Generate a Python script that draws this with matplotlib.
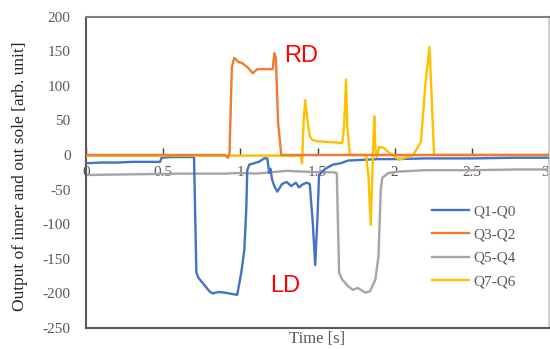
import matplotlib
matplotlib.use("Agg")
import matplotlib.pyplot as plt

# ---- data ----
t_q1 = [0, 0.1, 0.2, 0.3, 0.4, 0.48, 0.49, 0.55, 0.65, 0.70, 0.715, 0.73, 0.76, 0.80, 0.82,
        0.86, 0.90, 0.95, 0.975, 0.98, 1.006, 1.026, 1.039, 1.045, 1.058, 1.12, 1.155, 1.175,
        1.187, 1.195, 1.205, 1.22, 1.24, 1.27, 1.30, 1.33, 1.36, 1.38, 1.40, 1.43, 1.45,
        1.47, 1.485, 1.50, 1.51, 1.55, 1.60, 1.65, 1.70, 1.80, 1.90, 2.0, 2.2, 2.5, 2.8, 3.0]
v_q1 = [-12, -11, -11, -10, -10, -10, -4, -3, -3, -3, -170, -178, -186, -197, -200,
        -198, -199, -201, -202, -202, -170, -137, -75, -22, -14, -10, -5, -5,
        -26, -20, -35, -45, -53, -42, -39, -45, -40, -47, -43, -40, -42,
        -100, -159, -90, -29, -20, -14, -12, -8, -7, -6, -6, -5, -5, -4, -4]

t_q3 = [0, 0.90, 0.92, 0.93, 0.945, 0.96, 0.99, 1.01, 1.05, 1.08, 1.11, 1.17, 1.21, 1.22,
        1.23, 1.245, 1.265, 3.0]
v_q3 = [0, 0, -4, 3, 127, 140, 134, 133, 126, 118, 124, 124, 124, 147,
        141, 46, 0, 0]

t_q5 = [0, 0.3, 0.6, 0.9, 1.0, 1.1, 1.2, 1.3, 1.4, 1.5, 1.6, 1.625, 1.64, 1.66, 1.70,
        1.73, 1.76, 1.81, 1.84, 1.875, 1.895, 1.91, 1.92, 1.96, 2.03, 2.2, 2.5, 2.8, 3.0]
v_q5 = [-29, -28, -27, -27, -26, -27, -25, -23, -24, -25, -25, -26, -170, -180, -190,
        -195, -192, -199, -197, -180, -147, -50, -33, -26, -24, -22, -22, -21, -21]

t_q7 = [0, 1.39, 1.40, 1.41, 1.42, 1.435, 1.45, 1.465, 1.49, 1.55, 1.62, 1.66, 1.672,
        1.685, 1.693, 1.71, 1.815, 1.83, 1.845, 1.855, 1.862, 1.868, 1.875, 1.885, 1.90,
        1.93, 1.96, 2.03, 2.08, 2.12, 2.17, 2.20, 2.225, 2.24, 2.255, 3.0]
v_q7 = [-1, -1, -12, 48, 79, 50, 27, 22, 20, 19, 18, 17, 40,
        109, 40, 0, 0, -30, -101, -30, 20, 56, 10, -3, 12,
        10, 4, -7, -3, 0, 19, 104, 156, 83, 0, 0]

series_names = ["Q1-Q0", "Q3-Q2", "Q5-Q4", "Q7-Q6"]
series_colors = ["#4472C4", "#ED7D31", "#A5A5A5", "#FFC000"]
x_ticks = [0, 0.5, 1, 1.5, 2, 2.5, 3]
x_tick_labels = ["0", "0.5", "1", "1.5", "2", "2.5", "3"]
y_ticks = [200, 150, 100, 50, 0, -50, -100, -150, -200, -250]

# ---- figure ----
serif = ["Liberation Serif", "DejaVu Serif"]
txt_col = "#595959"
fig = plt.figure(figsize=(5.5, 3.49), dpi=100)
ax = fig.add_axes([86 / 550, 21 / 349, 463 / 550, 311.5 / 349])
ax.set_xlim(0, 3)
ax.set_ylim(-250, 200)

lines = []
order = [(t_q1, v_q1), (t_q3, v_q3), (t_q5, v_q5), (t_q7, v_q7)]
zorders = [3, 5, 2, 4]
for (tt, vv), name, col, z in zip(order, series_names, series_colors, zorders):
    ln, = ax.plot(tt, vv, color=col, lw=1.7, label=name, zorder=z, solid_joinstyle="round")
    lines.append(ln)

# frame
for side in ["left", "bottom", "top", "right"]:
    ax.spines[side].set_color("#595959")
    ax.spines[side].set_linewidth(1.5)
ax.spines["top"].set_color("#808080")
ax.spines["right"].set_color("#d0d0d0")

ax.set_yticks(y_ticks)
ax.set_yticklabels([str(v) for v in y_ticks], fontfamily=serif, fontsize=11, color=txt_col)
ax.tick_params(axis="y", length=0, pad=11)
ax.set_xticks([])

# x axis through y = 0
sec = ax.secondary_xaxis(250 / 450)
sec.xaxis.set_ticks_position("bottom")
sec.xaxis.set_label_position("bottom")
sec.set_xticks(x_ticks)
sec.set_xticklabels(x_tick_labels, fontfamily=serif, fontsize=11, color=txt_col)
sec.tick_params(axis="x", direction="in", length=5, width=1, color="#404040", pad=8)
for side in ["top", "bottom"]:
    sec.spines[side].set_color("#a0a0a0")
    sec.spines[side].set_linewidth(1.0)
sec.get_xticklabels()[-1].set_horizontalalignment("right")

ax.set_xlabel("Time [s]", fontfamily=serif, fontsize=12, color=txt_col, labelpad=2)
fig.text(20 / 550, 1 - 176.5 / 349, "Output of inner and out sole [arb. unit]",
         rotation=90, ha="center", va="center", fontfamily=serif, fontsize=12.5, color="#262626")

ax.text(1.394, 143, "RD", color="#FF0000", fontsize=17, fontfamily="Liberation Sans",
        ha="center", va="center")
ax.text(1.29, -190, "LD", color="#FF0000", fontsize=17, fontfamily="Liberation Sans",
        ha="center", va="center")

leg = ax.legend(handles=lines, loc="center left", bbox_to_anchor=(432 / 550, 1 - 246.5 / 349),
                bbox_transform=fig.transFigure, frameon=False, borderpad=0, borderaxespad=0,
                handlelength=2.45, handletextpad=0.25, labelspacing=0.62,
                prop={"family": serif, "size": 11})
for tx in leg.get_texts():
    tx.set_color(txt_col)

fig.savefig("out.png", dpi=100)
